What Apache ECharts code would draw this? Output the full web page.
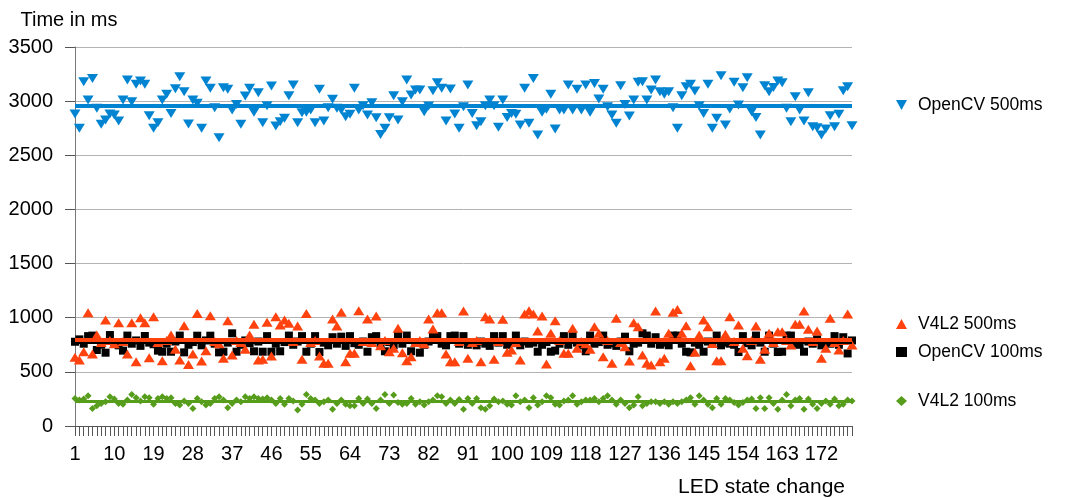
<!DOCTYPE html>
<html>
<head>
<meta charset="utf-8">
<script src="https://cdn.jsdelivr.net/npm/echarts@6/dist/echarts.min.js"></script>
<style>
  html, body { margin: 0; padding: 0; background: #fff; }
  #chart { width: 1070px; height: 498px; }
</style>
</head>
<body>
<div id="chart"></div>
<script>
// LED state change index 1..179
var categories = [];
for (var i = 1; i <= 179; i++) { categories.push(String(i)); }

var opencv500 = [
  2881, 2749, 3180, 3010, 3210, 2934, 2786, 2826, 2881, 2872, 2816, 3010, 3195, 2995, 3155, 3186, 3155, 2866, 2749, 2801,
  3010, 3063, 2887, 3115, 3225, 3087, 2789, 3010, 2980, 2749, 3186, 3118, 2940, 2662, 3124, 3109, 2918, 2970, 2786, 3047,
  3118, 2897, 3078, 2801, 2958, 3140, 2770, 2810, 2841, 3050, 3149, 2801, 2893, 2897, 2918, 2801, 3109, 2816, 2940, 3017,
  2934, 2918, 2856, 2878, 3118, 2918, 2958, 2872, 2986, 2847, 2693, 2749, 2847, 3050, 2826, 2995, 3195, 3057, 3103, 3103,
  2902, 2955, 3096, 3170, 3118, 2816, 3112, 2881, 2749, 2949, 3149, 2887, 2773, 2810, 2958, 3010, 2958, 2758, 3010, 2850,
  2887, 2878, 2780, 3118, 2795, 3210, 2687, 2897, 2924, 3063, 2743, 2918, 2918, 3149, 2918, 3109, 2918, 3149, 2897, 3164,
  3020, 3109, 2949, 2872, 2795, 3143, 2970, 2863, 3010, 3174, 3180, 3010, 3103, 3195, 3087, 3063, 3087, 2940, 2749, 3050,
  3133, 3155, 3094, 2958, 2887, 3155, 2749, 2841, 3235, 2780, 2927, 3174, 2964, 3124, 3216, 2902, 2850, 2687, 3143, 3087,
  3127, 3186, 3170, 2934, 2810, 3041, 2918, 2816, 3078, 2764, 2755, 2687, 2743, 2866, 2764, 2878, 3096, 3133, 2773
];

var v4l2500 = [
  634, 609, 686, 1046, 665, 840, 770, 979, 790, 760, 954, 780, 665, 954, 594, 1000, 954, 631, 1009, 770,
  603, 790, 840, 708, 609, 926, 569, 665, 1040, 600, 696, 1019, 780, 760, 625, 973, 656, 790, 770, 708,
  840, 939, 609, 616, 957, 646, 1009, 933, 979, 948, 780, 923, 616, 1040, 770, 790, 646, 579, 579, 988,
  923, 1050, 594, 671, 671, 1065, 780, 988, 770, 1016, 742, 790, 686, 717, 902, 677, 603, 640, 770, 790,
  760, 988, 896, 1046, 1046, 665, 594, 594, 780, 1062, 625, 770, 790, 594, 1009, 988, 616, 780, 985, 680,
  702, 770, 609, 1034, 1065, 1034, 877, 1016, 573, 856, 973, 790, 671, 671, 902, 717, 780, 760, 708, 917,
  856, 640, 790, 579, 994, 770, 733, 600, 954, 917, 656, 579, 563, 1062, 594, 625, 856, 1050, 1077, 856,
  926, 557, 680, 840, 979, 917, 763, 603, 603, 847, 1009, 780, 933, 717, 649, 790, 923, 616, 708, 856,
  770, 871, 871, 790, 748, 939, 939, 1062, 893, 780, 877, 625, 717, 994, 770, 702, 790, 1034, 748
];

var opencv100 = [
  778, 800, 760, 830, 835, 702, 750, 677, 840, 770, 745, 696, 835, 760, 790, 740, 831, 770, 755, 696,
  686, 760, 686, 780, 835, 680, 750, 775, 834, 745, 790, 834, 760, 680, 686, 770, 856, 686, 750, 790,
  765, 690, 780, 686, 830, 686, 760, 690, 775, 835, 750, 780, 830, 686, 760, 830, 683, 770, 745, 820,
  760, 825, 740, 830, 765, 750, 780, 686, 820, 830, 760, 690, 775, 745, 835, 760, 835, 690, 770, 677,
  750, 780, 835, 830, 760, 745, 830, 835, 760, 830, 750, 770, 745, 780, 760, 740, 830, 770, 830, 750,
  765, 835, 745, 780, 760, 770, 686, 750, 775, 686, 696, 760, 830, 750, 830, 770, 745, 690, 835, 760,
  775, 835, 750, 765, 740, 780, 825, 690, 760, 770, 856, 835, 760, 820, 750, 770, 745, 835, 835, 760,
  686, 680, 770, 750, 686, 780, 760, 835, 745, 770, 760, 750, 683, 830, 765, 745, 835, 770, 686, 835,
  760, 683, 686, 835, 835, 760, 750, 686, 780, 760, 800, 745, 770, 760, 830, 750, 820, 670, 790
];

var v4l2100 = [
  255, 240, 250, 280, 162, 187, 208, 224, 270, 250, 208, 200, 240, 292, 260, 230, 270, 260, 200, 255,
  270, 255, 260, 208, 193, 230, 208, 162, 255, 224, 193, 208, 255, 270, 240, 168, 208, 240, 224, 270,
  255, 270, 255, 250, 260, 240, 208, 255, 200, 255, 230, 147, 200, 292, 255, 240, 208, 224, 240, 155,
  208, 240, 200, 187, 187, 255, 208, 250, 208, 162, 240, 292, 208, 286, 218, 200, 208, 255, 200, 224,
  193, 224, 240, 280, 270, 208, 240, 208, 245, 155, 255, 208, 255, 168, 155, 187, 250, 224, 230, 200,
  193, 280, 224, 240, 168, 260, 193, 224, 280, 260, 200, 193, 230, 240, 280, 200, 224, 240, 240, 255,
  224, 255, 280, 240, 200, 240, 208, 168, 193, 270, 187, 208, 224, 224, 208, 224, 200, 224, 208, 224,
  240, 260, 200, 280, 240, 200, 168, 255, 200, 255, 240, 218, 193, 218, 240, 250, 162, 260, 162, 260,
  208, 155, 240, 292, 187, 240, 255, 155, 250, 200, 162, 208, 230, 200, 250, 187, 200, 240, 230
];

// mean value lines: OpenCV 500ms, V4L2 500ms, OpenCV 100ms, V4L2 100ms
var meanLines = [2960, 800, 775, 224];

var yTicks = { min: 0, max: 3500, interval: 500 };

var chartDom = document.getElementById('chart');
var myChart = echarts.init(chartDom);

var font = 'Liberation Sans, Arial, sans-serif';
var downTriangle = 'path://M0,0 L10,0 L5,9 Z';

function meanLine(value, color, width) {
    return {
        silent: true,
        symbol: 'none',
        label: { show: false },
        lineStyle: { color: color, width: width, type: 'solid', opacity: 1 },
        data: [{ yAxis: value }]
    };
}

function legendAt(name, top, icon) {
    return {
        data: [{ name: name, icon: icon }],
        left: 896,
        top: top,
        orient: 'vertical',
        padding: 0,
        itemWidth: 11,
        itemHeight: 10,
        itemGap: 0,
        textStyle: { color: '#000', fontSize: 17.5, fontFamily: font, padding: [0, 0, 0, 6] }
    };
}

var option = {
    animation: false,
    backgroundColor: '#fff',
    textStyle: { fontFamily: font },
    grid: {
        left: 75,
        right: 218,
        top: 47,
        bottom: 72,
        containLabel: false
    },
    legend: [
        legendAt('OpenCV 500ms', 96, downTriangle),
        legendAt('V4L2 500ms', 315, 'triangle'),
        legendAt('OpenCV 100ms', 343, 'rect'),
        legendAt('V4L2 100ms', 392, 'diamond')
    ],
    xAxis: {
        type: 'category',
        data: categories,
        boundaryGap: false,
        name: 'LED state change',
        nameLocation: 'end',
        nameGap: -7,
        nameTextStyle: { color: '#000', fontSize: 21, fontFamily: font, align: 'right', verticalAlign: 'top', padding: [51, 0, 0, 0] },
        axisLine: { lineStyle: { color: '#555', width: 1 } },
        axisTick: { show: true, interval: 0, length: 10, lineStyle: { color: '#555' } },
        axisLabel: { interval: 8, color: '#000', fontSize: 20, fontFamily: font, margin: 18 },
        splitLine: { show: false }
    },
    yAxis: {
        type: 'value',
        min: yTicks.min,
        max: yTicks.max,
        interval: yTicks.interval,
        name: 'Time in ms',
        nameGap: 17,
        nameTextStyle: { color: '#000', fontSize: 20, fontFamily: font, padding: [0, 12, 0, 0] },
        axisLine: { show: true, lineStyle: { color: '#777', width: 1 } },
        axisTick: { show: true, length: 10, lineStyle: { color: '#555' } },
        axisLabel: {
            color: '#000', fontSize: 20, fontFamily: font, margin: 22,
            formatter: function (v) { return String(v); }
        },
        splitLine: { show: true, lineStyle: { color: '#b3b3b3', width: 1 } }
    },
    series: [
        {
            name: 'OpenCV 500ms',
            type: 'scatter',
            data: opencv500,
            symbol: 'triangle',
            symbolRotate: 180,
            symbolSize: [11, 9],
            itemStyle: { color: '#0084d1', opacity: 1 },
            markLine: meanLine(meanLines[0], '#0084d1', 4)
        },
        {
            name: 'OpenCV 100ms',
            type: 'scatter',
            data: opencv100,
            symbol: 'rect',
            symbolSize: [8, 8],
            itemStyle: { color: '#000', opacity: 1 },
            markLine: meanLine(meanLines[2], '#000', 3)
        },
        {
            name: 'V4L2 500ms',
            type: 'scatter',
            data: v4l2500,
            symbol: 'triangle',
            symbolSize: [11, 9],
            itemStyle: { color: '#ff420e', opacity: 1 },
            markLine: meanLine(meanLines[1], '#ff420e', 4)
        },
        {
            name: 'V4L2 100ms',
            type: 'scatter',
            data: v4l2100,
            symbol: 'diamond',
            symbolSize: [7, 7],
            itemStyle: { color: '#579d1c', opacity: 1 },
            markLine: meanLine(meanLines[3], '#579d1c', 3)
        }
    ]
};

myChart.setOption(option);
</script>
</body>
</html>
